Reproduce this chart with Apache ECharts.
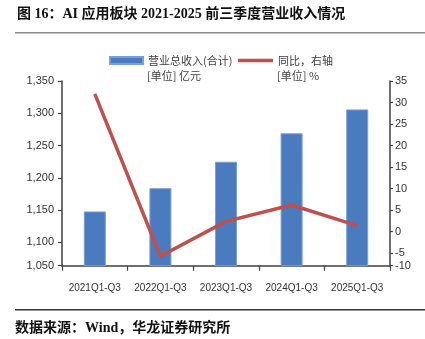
<!DOCTYPE html>
<html>
<head>
<meta charset="utf-8">
<script src="https://cdn.jsdelivr.net/npm/echarts@6/dist/echarts.min.js"></script>
<style>html,body{margin:0;padding:0;background:#fff;}#c{width:425px;height:339px;}</style>
</head>
<body>
<div id="c"></div>
<script>
const categories = ['2021Q1-Q3', '2022Q1-Q3', '2023Q1-Q3', '2024Q1-Q3', '2025Q1-Q3'];
const revenue = [1148, 1184, 1225, 1269, 1306];
const yoy = [32.0, -5.7, 2.4, 6.2, 1.4];
const leftTickValues = [1064, 1100, 1150, 1200, 1250, 1300, 1350];
const leftTickLabels = ['1,050', '1,100', '1,150', '1,200', '1,250', '1,300', '1,350'];
const rightTickValues = [-7.9, -5, 0, 5, 10, 15, 20, 25, 30, 35];
const rightTickLabels = ['-10', '-5', '0', '5', '10', '15', '20', '25', '30', '35'];
const seriesNames = ['营业总收入(合计)', '同比，右轴'];
const unitTexts = ['[单位] 亿元', '[单位] %'];
const titleText = '图 16：AI 应用板块 2021-2025 前三季度营业收入情况';
const sourceText = '数据来源：Wind，华龙证券研究所';

function pick(vals, labels, v) {
  let best = 0;
  for (let i = 1; i < vals.length; i++) if (Math.abs(vals[i] - v) < Math.abs(vals[best] - v)) best = i;
  return labels[best];
}

const axisColor = '#404040';
const chart = echarts.init(document.getElementById('c'), null, {renderer: 'canvas'});
chart.setOption({
  animation: false,
  backgroundColor: '#fff',
  textStyle: {fontFamily: 'Liberation Sans, Noto Sans CJK SC'},
  grid: {left: 62, right: 35, top: 81, bottom: 73.3},
  legend: [
    {data: [seriesNames[0]], left: 109, top: 55, padding: 0, itemWidth: 33, itemHeight: 7, itemGap: 5,
     icon: 'rect', textStyle: {fontSize: 11, color: '#404040', fontFamily: 'Noto Sans CJK SC'}},
    {data: [seriesNames[1]], left: 238, top: 55, padding: 0, itemWidth: 35, itemHeight: 3.5, itemGap: 5,
     icon: 'rect', textStyle: {fontSize: 11, color: '#404040', fontFamily: 'Noto Sans CJK SC'}}
  ],
  xAxis: {
    type: 'category', data: categories,
    axisLine: {onZero: false, lineStyle: {color: axisColor, width: 1.5}},
    axisTick: {show: true, length: 5, inside: false, lineStyle: {color: axisColor, width: 1.2}},
    axisLabel: {fontSize: 10, color: '#333', margin: 18, interval: 0}
  },
  yAxis: [
    {type: 'value', min: 1064, max: 1350, position: 'left',
     axisLine: {show: true, lineStyle: {color: axisColor, width: 1.5}},
     axisTick: {show: true, length: 4, customValues: leftTickValues, lineStyle: {color: axisColor, width: 1.2}},
     axisLabel: {fontSize: 11, color: '#333', margin: 8, customValues: leftTickValues,
                 formatter: v => pick(leftTickValues, leftTickLabels, v)},
     splitLine: {show: false}},
    {type: 'value', min: -7.9, max: 35, position: 'right',
     axisLine: {show: true, lineStyle: {color: axisColor, width: 1.5}},
     axisTick: {show: true, length: 3, customValues: rightTickValues, lineStyle: {color: axisColor, width: 1.2}},
     axisLabel: {fontSize: 11, color: '#333', margin: 5, customValues: rightTickValues,
                 formatter: v => pick(rightTickValues, rightTickLabels, v)},
     splitLine: {show: false}}
  ],
  series: [
    {name: seriesNames[0], type: 'bar', data: revenue, yAxisIndex: 0, barWidth: 22,
     itemStyle: {color: '#4a7bbf', borderColor: '#7a9fd3', borderWidth: 1}},
    {name: seriesNames[1], type: 'line', data: yoy, yAxisIndex: 1, symbol: 'none', z: 5,
     lineStyle: {color: '#c0504d', width: 3.5}, itemStyle: {color: '#c0504d'}}
  ],
  graphic: [
    {type: 'text', left: 17, top: 7, style: {text: titleText, fontSize: 14, fontWeight: 'bold', fill: '#111',
      fontFamily: 'Liberation Serif, Noto Sans CJK SC'}},
    {type: 'rect', shape: {x: 15, y: 32, width: 410, height: 1.6}, style: {fill: '#8a8a8a'}},
    {type: 'text', left: 147, top: 70, style: {text: unitTexts[0], fontSize: 11, fill: '#404040', fontFamily: 'Noto Sans CJK SC'}},
    {type: 'text', left: 277, top: 70, style: {text: unitTexts[1], fontSize: 11, fill: '#404040', fontFamily: 'Noto Sans CJK SC'}},
    {type: 'rect', shape: {x: 15, y: 309, width: 410, height: 1.6}, style: {fill: '#333'}},
    {type: 'text', left: 15, top: 321, style: {text: sourceText, fontSize: 14, fontWeight: 'bold', fill: '#111',
      fontFamily: 'Liberation Serif, Noto Sans CJK SC'}}
  ]
});
</script>
</body>
</html>
